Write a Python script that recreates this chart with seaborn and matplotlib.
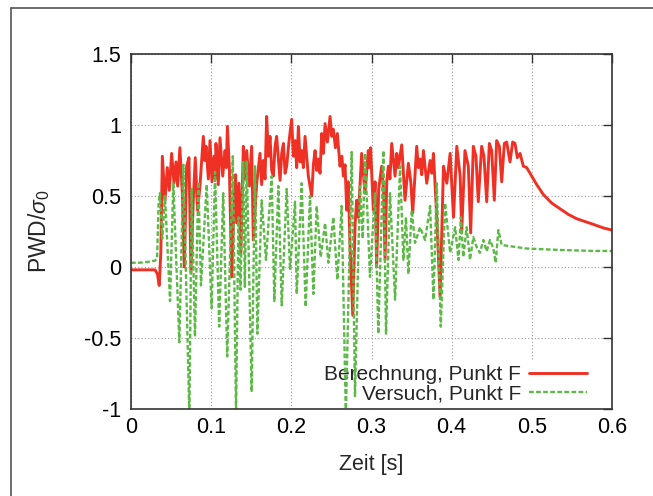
import numpy as np
import pandas as pd
import seaborn as sns
import matplotlib.pyplot as plt
from matplotlib.lines import Line2D

# Berechnung (calculation), point F
t_calc = [0.000, 0.030, 0.0330, 0.0352, 0.0372, 0.0391, 0.0424, 0.0453, 0.0478, 0.0507,
          0.0536, 0.0561, 0.0582, 0.0610, 0.0640, 0.0665, 0.0694, 0.0723, 0.0748, 0.0777,
          0.0802, 0.0831, 0.0860, 0.0902, 0.0920, 0.0936, 0.0965, 0.0985, 0.1010, 0.1035,
          0.1050, 0.1060, 0.1089, 0.1110, 0.1144, 0.1173, 0.1190, 0.1202, 0.1227, 0.1256,
          0.1289, 0.1305, 0.1318, 0.1347, 0.1370, 0.1401, 0.1420, 0.1443, 0.1476, 0.1505,
          0.1526, 0.1568, 0.1590, 0.1609, 0.1630, 0.1651, 0.1672, 0.1692, 0.1714, 0.1734,
          0.1755, 0.1776, 0.1797, 0.1817, 0.1859, 0.1880, 0.1901, 0.1922, 0.1942, 0.1970,
          0.2004, 0.2025, 0.2046, 0.2067, 0.2088, 0.2110, 0.2129, 0.2150, 0.2171, 0.2212,
          0.2254, 0.2275, 0.2296, 0.2317, 0.2337, 0.2358, 0.2379, 0.2400, 0.2421, 0.2450,
          0.2483, 0.2504, 0.2524, 0.2550, 0.2574, 0.2607, 0.2630, 0.2649, 0.2670, 0.2691,
          0.2710, 0.2732, 0.2766, 0.2795, 0.2815, 0.2836, 0.2877, 0.2919, 0.2960, 0.2975,
          0.2989, 0.3023, 0.3045, 0.3064, 0.3090, 0.3127, 0.3150, 0.3169, 0.3190, 0.3210,
          0.3230, 0.3252, 0.3294, 0.3315, 0.3335, 0.3377, 0.3418, 0.3460, 0.3490, 0.3514,
          0.3564, 0.3585, 0.3606, 0.3627, 0.3648, 0.3689, 0.3731, 0.3752, 0.3773, 0.3814,
          0.3856, 0.3898, 0.3939, 0.3981, 0.4023, 0.4064, 0.4106, 0.4125, 0.4166, 0.4208,
          0.4237, 0.4270, 0.4303, 0.4332, 0.4374, 0.4403, 0.4437, 0.4470, 0.4499, 0.4532,
          0.4561, 0.4595, 0.4624, 0.4657, 0.4686, 0.4728, 0.4761, 0.4790, 0.4819, 0.4853,
          0.4894, 0.4936, 0.4999, 0.5061, 0.5144, 0.5248, 0.5352, 0.5456, 0.5560, 0.5664,
          0.5768, 0.5893, 0.6000]
pwd_calc = [-0.02, -0.02, -0.05, -0.13, 0.10, 0.78, 0.47, 0.70, 0.54, 0.80,
            0.59, 0.74, 0.57, 0.84, 0.52, 0.00, 0.71, 0.77, -0.04, 0.47,
            0.77, 0.40, 0.57, 0.92, 0.75, 0.85, 0.62, 0.89, 0.60, 0.78,
            0.62, 0.87, 0.58, 0.91, 0.64, 0.82, 0.70, 0.99, 0.70, -0.07,
            0.50, 0.65, 0.31, 0.59, 0.10, 0.85, 0.62, 0.82, 0.57, 0.85,
            0.19, 0.59, 0.70, 0.80, 0.58, 0.75, 0.62, 1.06, 0.78, 0.92,
            0.68, 0.64, 0.85, 0.92, 0.61, 0.80, 0.87, 0.66, 0.71, 0.88,
            1.04, 0.78, 0.89, 0.70, 0.99, 0.74, 0.82, 0.70, 0.92, 0.64,
            0.50, 0.72, 0.82, 0.68, 0.76, 0.66, 0.94, 0.80, 1.01, 0.88,
            1.06, 0.92, 0.97, 0.84, 0.94, 0.71, 0.78, 0.64, 0.72, 0.40,
            0.60, 0.15, -0.34, 0.30, 0.47, 0.35, 0.80, 0.52, 0.82, 0.70,
            0.84, 0.40, 0.60, 0.00, 0.55, 0.71, 0.55, 0.05, 0.60, 0.71,
            0.62, 0.87, 0.64, 0.80, 0.70, 0.86, 0.47, 0.73, 0.60, 0.38,
            0.85, 0.70, 0.76, 0.65, 0.82, 0.59, 0.75, 0.66, 0.80, 0.35,
            -0.21, 0.71, 0.59, 0.80, 0.35, 0.85, 0.64, 0.24, 0.82, 0.71,
            0.24, 0.85, 0.78, 0.46, 0.85, 0.78, 0.46, 0.87, 0.82, 0.47,
            0.89, 0.85, 0.60, 0.87, 0.88, 0.74, 0.88, 0.87, 0.77, 0.80,
            0.71, 0.70, 0.64, 0.58, 0.51, 0.45, 0.41, 0.37, 0.34, 0.32,
            0.30, 0.275, 0.26]

# Versuch (experiment), point F
t_test = [0.000, 0.010, 0.020, 0.0300, 0.0325, 0.0345, 0.0360, 0.0390, 0.0424, 0.0487,
          0.0528, 0.0603, 0.0653, 0.0728, 0.0757, 0.0798, 0.0840, 0.0873, 0.0944, 0.1006,
          0.1048, 0.1100, 0.1150, 0.1200, 0.1270, 0.1310, 0.1340, 0.1365, 0.1400, 0.1420,
          0.1443, 0.1505, 0.1547, 0.1576, 0.1630, 0.1684, 0.1755, 0.1788, 0.1838, 0.1880,
          0.1942, 0.1984, 0.2046, 0.2067, 0.2129, 0.2179, 0.2233, 0.2275, 0.2316, 0.2366,
          0.2421, 0.2462, 0.2524, 0.2574, 0.2628, 0.2680, 0.2753, 0.2794, 0.2856, 0.2890,
          0.2919, 0.2981, 0.3043, 0.3085, 0.3148, 0.3181, 0.3231, 0.3294, 0.3356, 0.3398,
          0.3430, 0.3460, 0.3502, 0.3543, 0.3606, 0.3668, 0.3731, 0.3773, 0.3814, 0.3864,
          0.3918, 0.3981, 0.4043, 0.4085, 0.4115, 0.4145, 0.4187, 0.4229, 0.4270, 0.4312,
          0.4353, 0.4395, 0.4437, 0.4478, 0.4520, 0.4549, 0.4582, 0.4624, 0.4936, 0.5350,
          0.5770, 0.6000]
pwd_test = [0.03, 0.03, 0.035, 0.045, 0.06, 0.45, 0.52, 0.20, 0.50, -0.24,
            0.59, -0.53, 0.72, -1.05, 0.55, -0.49, 0.60, -0.13, 0.58, -0.29,
            0.67, -0.42, 0.52, -0.63, 0.78, -1.05, 0.35, -0.16, 0.74, -0.14,
            0.75, -0.88, 0.71, -0.47, 0.47, 0.05, 0.64, -0.24, 0.57, -0.27,
            0.55, -0.02, 0.46, -0.19, 0.59, -0.28, 0.50, -0.19, 0.43, 0.07,
            0.31, 0.03, 0.35, -0.09, 0.43, -1.05, 0.81, -0.91, 0.57, 0.20,
            0.80, -0.07, 0.52, -0.47, 0.82, -0.47, 0.52, -0.23, 0.71, 0.05,
            0.35, -0.05, 0.40, 0.17, 0.28, 0.19, 0.43, -0.23, 0.59, -0.42,
            0.45, 0.10, 0.28, 0.05, 0.35, 0.07, 0.28, 0.05, 0.21, 0.14,
            0.10, 0.19, 0.11, 0.19, 0.13, 0.03, 0.26, 0.155, 0.13, 0.12,
            0.113, 0.113]

x_ticks = [0, 0.1, 0.2, 0.3, 0.4, 0.5, 0.6]
y_ticks = [-1, -0.5, 0, 0.5, 1, 1.5]
x_ticklabels = ['0', '0.1', '0.2', '0.3', '0.4', '0.5', '0.6']
y_ticklabels = ['-1', '-0.5', '0', '0.5', '1', '1.5']

calc = pd.DataFrame({'t': t_calc, 'pwd': pwd_calc})
test = pd.DataFrame({'t': t_test, 'pwd': pwd_test})

sns.set_style('white')
plt.rcParams['font.family'] = ['Liberation Sans', 'DejaVu Sans']
plt.rcParams['mathtext.fontset'] = 'custom'
plt.rcParams['mathtext.rm'] = 'Liberation Sans'
plt.rcParams['mathtext.it'] = 'Liberation Sans:italic'

fs = 15.5

fig = plt.figure(figsize=(6.53, 4.96), dpi=100)
ax = fig.add_axes([131 / 653, 87 / 496, 481 / 653, 355 / 496])

sns.lineplot(data=calc, x='t', y='pwd', ax=ax, color='#ee3124', lw=2.1,
             estimator=None, sort=False, label='Berechnung, Punkt F')
sns.lineplot(data=test, x='t', y='pwd', ax=ax, color='#5cb946', lw=1.7,
             linestyle=(0, (2, 1)), estimator=None, sort=False, label='Versuch, Punkt F')

ax.set_xlim(0, 0.6)
ax.set_ylim(-1, 1.5)
ax.set_xticks(x_ticks)
ax.set_xticklabels(x_ticklabels)
ax.set_yticks(y_ticks)
ax.set_yticklabels(y_ticklabels)
ax.tick_params(direction='in', top=True, right=True, length=6.5, width=1,
               color='#333333', labelsize=fs, labelcolor='black')
ax.tick_params(axis='x', pad=6)
ax.tick_params(axis='y', pad=7)
ax.set_axisbelow(True)
ax.grid(True, linestyle=(0, (1, 2)), color='#9a9a9a', lw=0.8)
for s in ax.spines.values():
    s.set_color('#333333')
    s.set_linewidth(1.2)

ax.set_xlabel('Zeit [s]', fontsize=fs, labelpad=11)
ax.set_ylabel(r'PWD/$\sigma_0$', fontsize=fs + 1)
ax.yaxis.set_label_coords(-0.165, 0.5)

leg = ax.legend(loc='lower right', bbox_to_anchor=(0.956, 0.005), fontsize=15,
                markerfirst=False, handlelength=2.75, handletextpad=0.4,
                labelspacing=0.0, borderpad=0.2, borderaxespad=0,
                frameon=True, fancybox=False, facecolor='white', edgecolor='none',
                framealpha=1)
leg.set_zorder(1)

# outer frame of the picture (top and left edge)
fig.add_artist(Line2D([11 / 653, 1], [1 - 8 / 496, 1 - 8 / 496],
                      transform=fig.transFigure, color='#555555', lw=1.2))
fig.add_artist(Line2D([11 / 653, 11 / 653], [0, 1 - 8 / 496],
                      transform=fig.transFigure, color='#555555', lw=1.2))

fig.savefig('out.png', dpi=100)
